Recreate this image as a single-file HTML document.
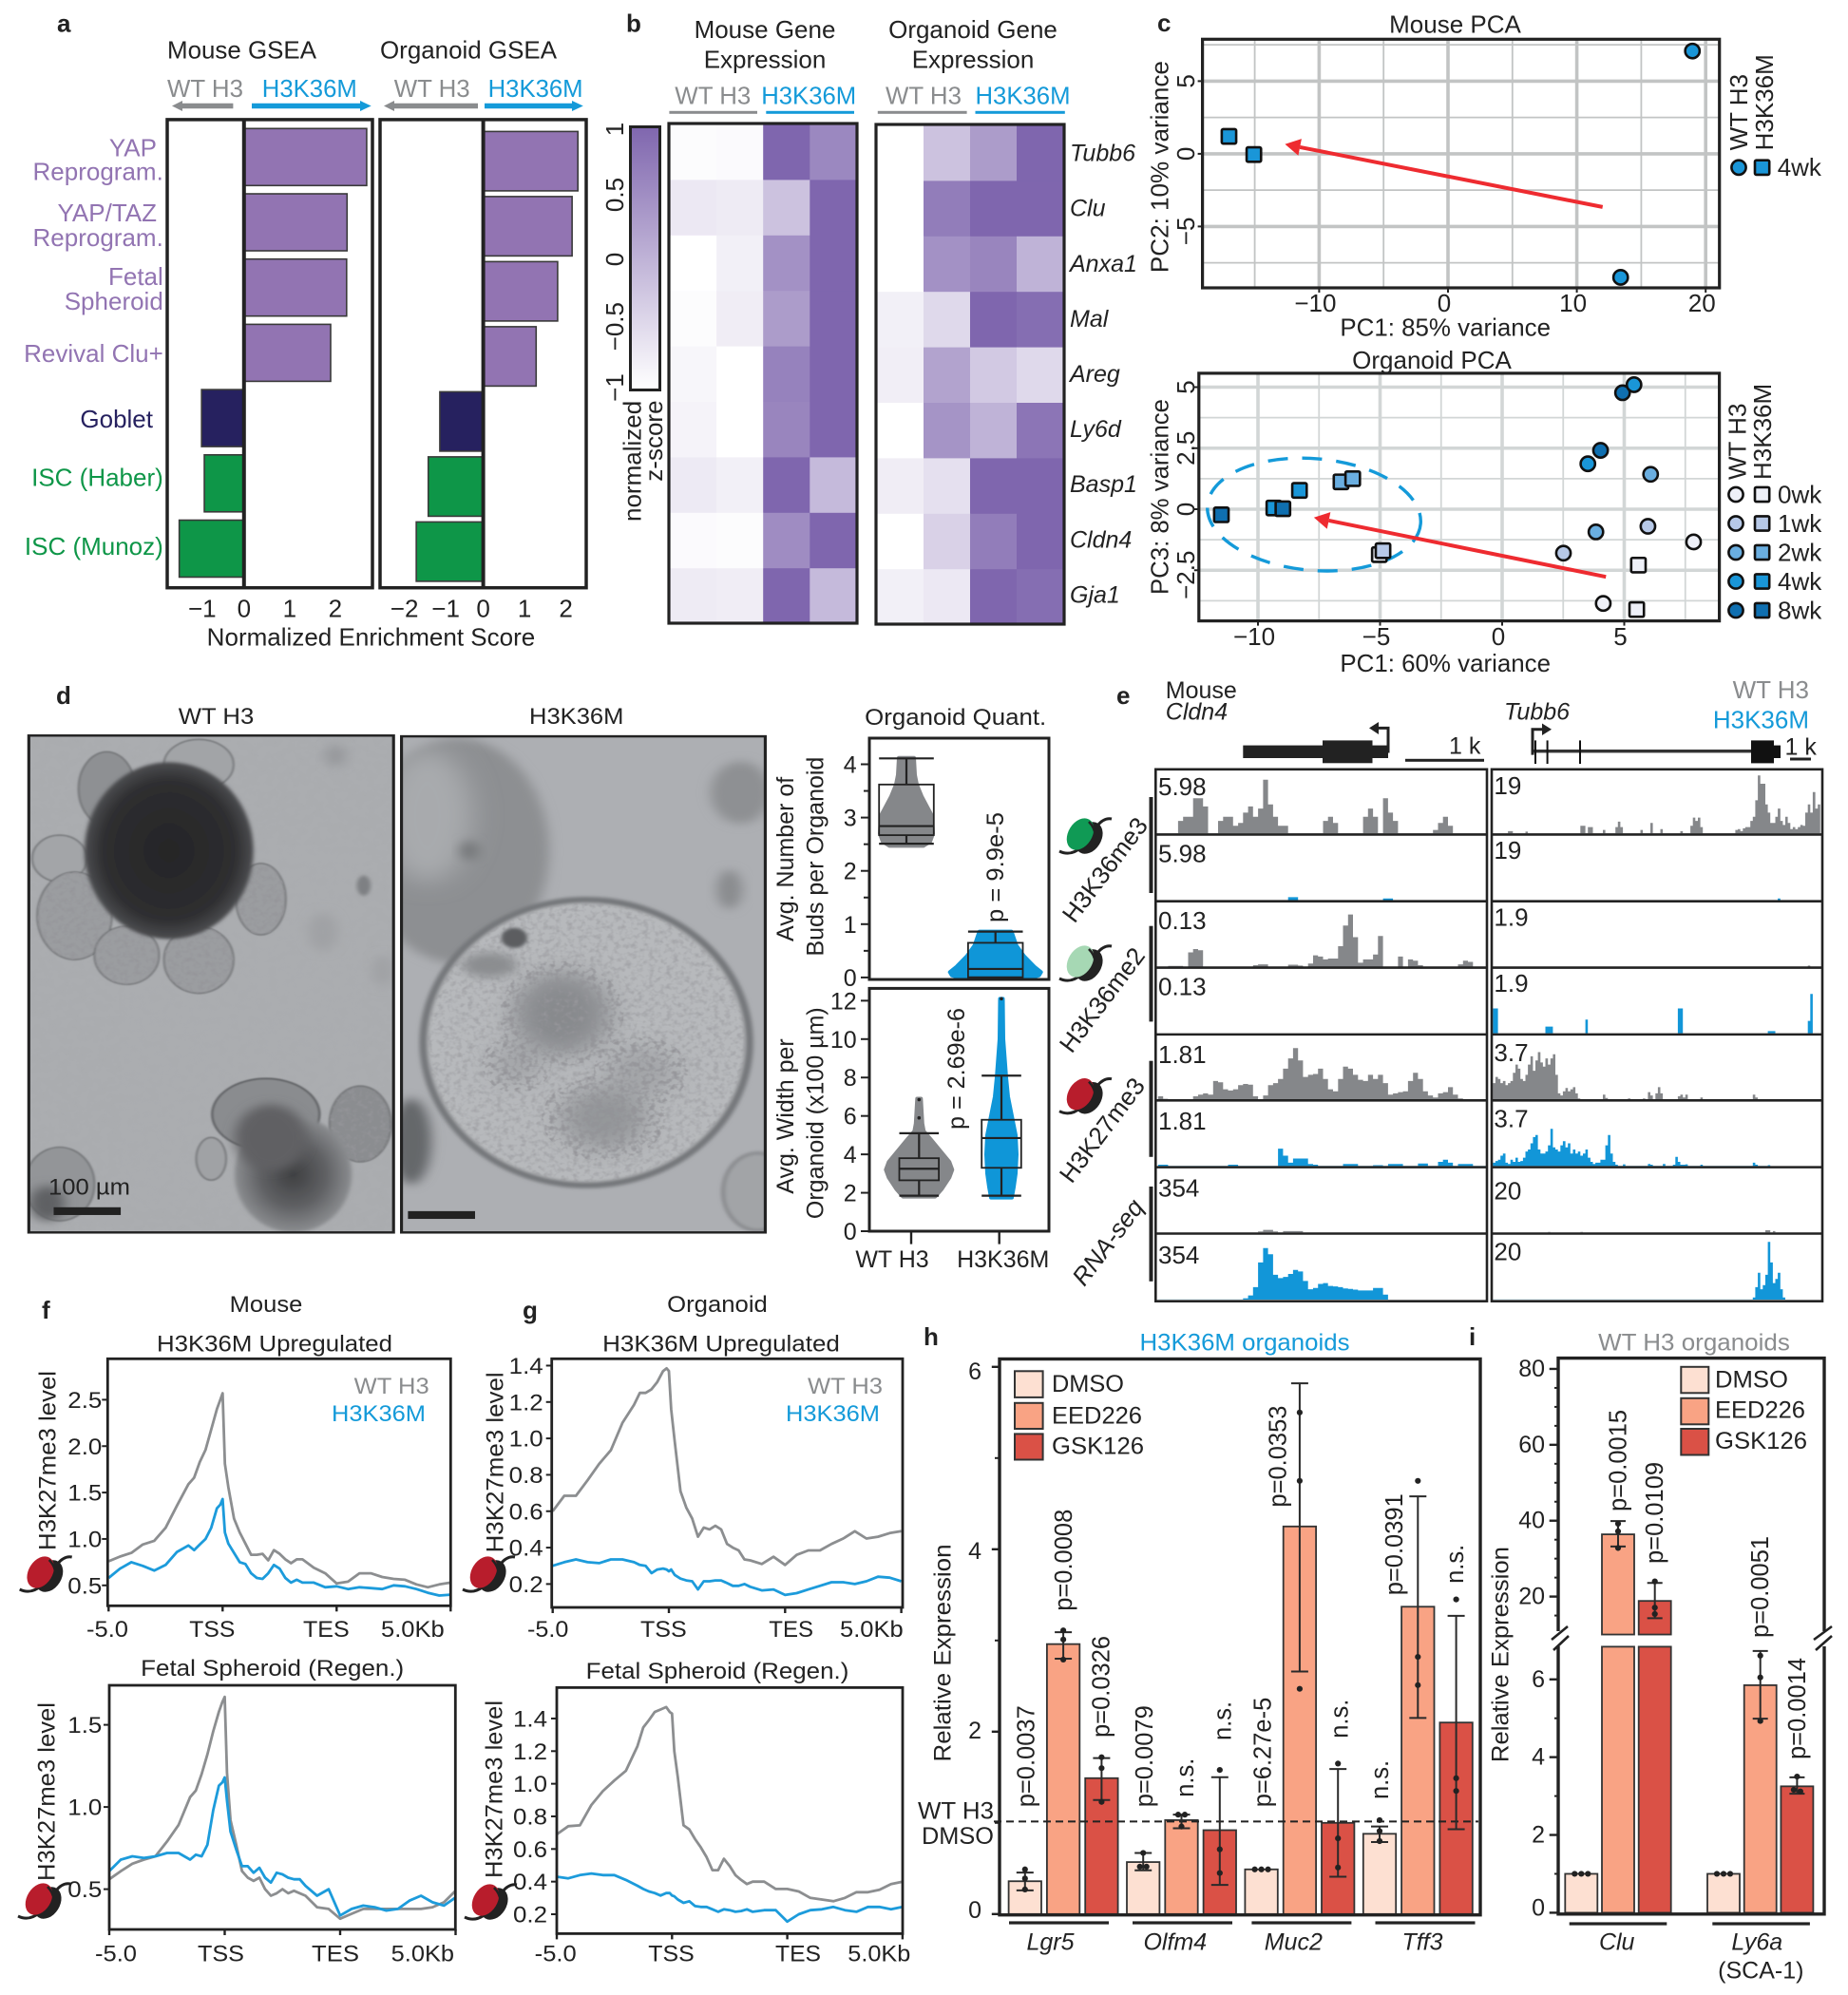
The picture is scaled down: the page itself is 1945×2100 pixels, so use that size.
<!DOCTYPE html>
<html lang="en">
<head>
<meta charset="utf-8">
<title>H3K36M figure</title>
<style>
html,body{margin:0;padding:0;background:#fff}
svg{display:block}
text{font-family:"Liberation Sans",sans-serif;fill:#222;font-size:26px}
.b{font-weight:700}
.gray{fill:#8a8c8e}
.blue{fill:#149ad9}
.purple{fill:#9274b2}
.navy{fill:#26215f}
.green{fill:#0e9648}
.it{font-style:italic}
.e{text-anchor:end}
.m{text-anchor:middle}
.s{font-size:24px}
</style>
</head>
<body>
<svg id="figure" width="1945" height="2100" viewBox="0 0 1945 2100">
<defs>
<linearGradient id="zscore-gradient" x1="0" y1="0" x2="0" y2="1"><stop offset="0" stop-color="#7f66ae"/><stop offset="1" stop-color="#ffffff"/></linearGradient>
<radialGradient id="core-gradient"><stop offset="0" stop-color="#252527"/><stop offset=".78" stop-color="#2e2e30"/><stop offset="1" stop-color="#4c4d50"/></radialGradient>
<radialGradient id="mass-gradient"><stop offset="0" stop-color="#3f4042"/><stop offset=".55" stop-color="#5f6063"/><stop offset="1" stop-color="#8b8d90"/></radialGradient>
<filter id="blur-xs" x="-10%" y="-10%" width="120%" height="120%"><feGaussianBlur stdDeviation="2"/></filter>
<filter id="blur-s" x="-20%" y="-20%" width="140%" height="140%"><feGaussianBlur stdDeviation="4"/></filter>
<filter id="blur-m" x="-40%" y="-40%" width="180%" height="180%"><feGaussianBlur stdDeviation="12"/></filter>
<filter id="blur-l" x="-60%" y="-60%" width="220%" height="220%"><feGaussianBlur stdDeviation="28"/></filter>
<filter id="speck" x="0" y="0" width="100%" height="100%"><feTurbulence type="fractalNoise" baseFrequency="0.085" numOctaves="2" seed="4"/><feColorMatrix values="0 0 0 0 .3 0 0 0 0 .3 0 0 0 0 .32 2.6 0 0 0 -1.15"/></filter>
<filter id="speck-fine" x="0" y="0" width="100%" height="100%"><feTurbulence type="fractalNoise" baseFrequency="0.05" numOctaves="3" seed="9"/><feColorMatrix values="0 0 0 0 .35 0 0 0 0 .35 0 0 0 0 .37 1.2 0 0 0 -.52"/></filter>
<clipPath id="photo-left-clip"><rect x="58" y="133" width="734" height="1282"/></clipPath>
<clipPath id="photo-right-clip"><rect x="808" y="135" width="732" height="1280"/></clipPath>
<clipPath id="sphere-clip"><ellipse cx="1180" cy="925" rx="322" ry="362"/></clipPath>
<clipPath id="cluster-clip"><ellipse cx="1130" cy="850" rx="125" ry="135"/><ellipse cx="1215" cy="1120" rx="125" ry="110"/><ellipse cx="1290" cy="1000" rx="95" ry="90"/><ellipse cx="1040" cy="980" rx="70" ry="75"/></clipPath>
<clipPath id="bud-clip"><ellipse cx="150" cy="598" rx="75" ry="113"/><ellipse cx="255" cy="700" rx="65" ry="75"/><ellipse cx="400" cy="712" rx="70" ry="86"/><ellipse cx="525" cy="555" rx="50" ry="92"/><ellipse cx="725" cy="1135" rx="62" ry="98"/><ellipse cx="535" cy="1110" rx="108" ry="92"/></clipPath>
<g id="nuc">
<path d="M-26 17C-18 21-10 19-3 13M14-10C19-16 24-18 29-17" fill="none" stroke="#222" stroke-width="3"/>
<ellipse cx="5" cy="3" rx="18" ry="13" transform="rotate(-58 5 3)" fill="#222"/>
<ellipse cx="-4" cy="-1" rx="18" ry="12.5" transform="rotate(-58 -4 -1)" fill="currentColor"/>
<path d="M5-14C13-6 14 5 7 15M0 15C6 10 14 4 18-2" fill="none" stroke="#222" stroke-width="2.6"/>
</g>
</defs>

<!-- panel labels -->
<text class="b" x="60" y="33.5">a</text>
<text class="b" x="659" y="33.5">b</text>
<text class="b" x="1218" y="33">c</text>
<text class="b" x="59" y="741">d</text>
<text class="b" x="1175" y="741">e</text>
<text class="b" x="44" y="1388">f</text>
<text class="b" x="550" y="1388">g</text>
<text class="b" x="972" y="1416">h</text>
<text class="b" x="1546" y="1416">i</text>

<!-- panel a text -->
<text x="176" y="61.6" textLength="157" lengthAdjust="spacingAndGlyphs">Mouse GSEA</text>
<text x="400" y="61.6" textLength="186" lengthAdjust="spacingAndGlyphs">Organoid GSEA</text>
<text class="gray" x="176" y="101.8" textLength="80" lengthAdjust="spacingAndGlyphs">WT H3</text>
<text class="blue" x="275.8" y="101.8" textLength="100" lengthAdjust="spacingAndGlyphs">H3K36M</text>
<text class="gray" x="414.7" y="101.8" textLength="80" lengthAdjust="spacingAndGlyphs">WT H3</text>
<text class="blue" x="513.6" y="101.8" textLength="100" lengthAdjust="spacingAndGlyphs">H3K36M</text>
<g>
<path d="M245.4 105.8H192V103L181 108.5 192 114V111.2H245.4Z" fill="#8a8c8e" transform="translate(0,3)"/>
<path d="M265 105.8H379V103L390.7 108.5 379 114V111.2H265Z" fill="#149ad9" transform="translate(0,3)"/>
<path d="M503 105.8H415V103L404 108.5 415 114V111.2H503Z" fill="#8a8c8e" transform="translate(0,3)"/>
<path d="M510 105.8H602V103L613.8 108.5 602 114V111.2H510Z" fill="#149ad9" transform="translate(0,3)"/>
</g>
<text class="purple e" x="165" y="164.3">YAP</text>
<text class="purple e" x="171.8" y="189.7">Reprogram.</text>
<text class="purple e" x="165" y="233">YAP/TAZ</text>
<text class="purple e" x="171.8" y="259">Reprogram.</text>
<text class="purple e" x="171.8" y="300">Fetal</text>
<text class="purple e" x="171.8" y="326">Spheroid</text>
<text class="purple e" x="171.8" y="381">Revival Clu+</text>
<text class="navy e" x="161" y="450">Goblet</text>
<text class="green e" x="171.8" y="511.6">ISC (Haber)</text>
<text class="green e" x="171.8" y="584">ISC (Munoz)</text>
<text x="217.7" y="679.4" textLength="345.6" lengthAdjust="spacingAndGlyphs">Normalized Enrichment Score</text>

<!-- panel b text -->
<text class="m" x="805" y="40">Mouse Gene</text>
<text class="m" x="805" y="71.4">Expression</text>
<text class="m" x="1024" y="40">Organoid Gene</text>
<text class="m" x="1024" y="71.4">Expression</text>
<text class="gray" x="710.3" y="109.4" textLength="80" lengthAdjust="spacingAndGlyphs">WT H3</text>
<text class="blue" x="801.2" y="109.4" textLength="100" lengthAdjust="spacingAndGlyphs">H3K36M</text>
<text class="gray" x="932" y="109.4" textLength="80" lengthAdjust="spacingAndGlyphs">WT H3</text>
<text class="blue" x="1026.5" y="109.4" textLength="100" lengthAdjust="spacingAndGlyphs">H3K36M</text>
<g>
<rect x="704.4" y="116.8" width="92.6" height="3" fill="#8a8c8e"/>
<rect x="806.3" y="116.8" width="92.7" height="3" fill="#149ad9"/>
<rect x="923.8" y="116.8" width="93.8" height="3" fill="#8a8c8e"/>
<rect x="1026.5" y="116.8" width="94.3" height="3" fill="#149ad9"/>
</g>
<rect x="663.5" y="133.5" width="31" height="277" fill="url(#zscore-gradient)" stroke="#222" stroke-width="3"/>
<text class="m" transform="translate(656,136) rotate(-90)">1</text>
<text class="m" transform="translate(656,205) rotate(-90)">0.5</text>
<text class="m" transform="translate(656,273) rotate(-90)">0</text>
<text class="m" transform="translate(656,343.7) rotate(-90)">−0.5</text>
<text class="m" transform="translate(656,408) rotate(-90)">−1</text>
<text transform="translate(674.5,549) rotate(-90)">normalized</text>
<text transform="translate(696.8,506.7) rotate(-90)">z-score</text>

<!-- panel c text -->
<text class="m" x="1531.5" y="34.4">Mouse PCA</text>
<text class="m" x="1507" y="388">Organoid PCA</text>
<text class="m" transform="translate(1229.5,175.6) rotate(-90)" textLength="223" lengthAdjust="spacingAndGlyphs">PC2: 10% variance</text>
<text class="m" transform="translate(1229.5,523) rotate(-90)" textLength="206" lengthAdjust="spacingAndGlyphs">PC3: 8% variance</text>
<text x="1410.4" y="353.4" textLength="221.6" lengthAdjust="spacingAndGlyphs">PC1: 85% variance</text>
<text x="1410.4" y="706.9" textLength="221.6" lengthAdjust="spacingAndGlyphs">PC1: 60% variance</text>
<text transform="translate(1839,158.4) rotate(-90)">WT H3</text>
<text transform="translate(1866,158.4) rotate(-90)">H3K36M</text>
<text transform="translate(1837.5,505) rotate(-90)">WT H3</text>
<text transform="translate(1864,505) rotate(-90)">H3K36M</text>

<!-- panel d photos -->
<g id="photos" transform="translate(0,720) scale(.523,.408)">
<g clip-path="url(#photo-left-clip)">
<rect x="58" y="133" width="734" height="1282" fill="#abadb0"/>
<rect x="58" y="133" width="734" height="1282" filter="url(#speck-fine)" opacity=".16"/>
<ellipse cx="675" cy="185" rx="22" ry="28" fill="#97999c" filter="url(#blur-m)"/>
<ellipse cx="732" cy="520" rx="14" ry="26" fill="#7e8083" filter="url(#blur-s)"/>
<ellipse cx="650" cy="640" rx="30" ry="50" fill="#a0a2a5" filter="url(#blur-m)"/>
<ellipse cx="770" cy="740" rx="22" ry="40" fill="#a0a2a5" filter="url(#blur-m)"/>
<g stroke="#66686b" stroke-width="3" fill="#9b9da0" filter="url(#blur-xs)">
<ellipse cx="215" cy="270" rx="57" ry="95" fill="#8e9093"/>
<ellipse cx="400" cy="208" rx="70" ry="65" fill="#a2a4a7"/>
<ellipse cx="120" cy="450" rx="55" ry="60" fill="#a3a5a8"/>
<ellipse cx="150" cy="598" rx="75" ry="113"/>
<ellipse cx="255" cy="700" rx="65" ry="75"/>
<ellipse cx="400" cy="712" rx="70" ry="86"/>
<ellipse cx="525" cy="555" rx="50" ry="92"/>
<ellipse cx="725" cy="1135" rx="62" ry="98" fill="#8b8d90"/>
<ellipse cx="425" cy="1225" rx="30" ry="55" fill="#a0a2a5"/>
<ellipse cx="120" cy="1290" rx="70" ry="95" fill="#939598"/>
</g>
<g clip-path="url(#bud-clip)"><rect x="58" y="133" width="734" height="1282" filter="url(#speck)" opacity=".8"/></g>
<ellipse cx="340" cy="430" rx="170" ry="228" fill="url(#core-gradient)" filter="url(#blur-s)"/>
<ellipse cx="535" cy="1110" rx="108" ry="92" fill="#8a8c8f" stroke="#55575a" stroke-width="4" filter="url(#blur-xs)"/>
<ellipse cx="590" cy="1265" rx="118" ry="150" fill="url(#mass-gradient)" filter="url(#blur-s)"/>
<ellipse cx="545" cy="1170" rx="72" ry="85" fill="#606164" filter="url(#blur-m)"/>
<ellipse cx="95" cy="1340" rx="35" ry="45" fill="#5f6063" filter="url(#blur-m)"/>
</g>
<g clip-path="url(#photo-right-clip)">
<rect x="808" y="135" width="732" height="1280" fill="#adafb3"/>
<ellipse cx="920" cy="430" rx="185" ry="290" fill="#8d8f92" filter="url(#blur-m)"/>
<ellipse cx="860" cy="340" rx="90" ry="170" fill="#a8aaad" filter="url(#blur-l)"/>
<ellipse cx="945" cy="430" rx="20" ry="25" fill="#77797c" filter="url(#blur-m)"/>
<ellipse cx="828" cy="1180" rx="40" ry="110" fill="#65676a" filter="url(#blur-m)"/>
<ellipse cx="1490" cy="280" rx="60" ry="80" fill="#8e9093" filter="url(#blur-m)"/>
<ellipse cx="1468" cy="530" rx="26" ry="50" fill="#8a8c8f" filter="url(#blur-m)"/>
<ellipse cx="1525" cy="1310" rx="70" ry="100" fill="#a2a4a7" stroke="#7b7d80" stroke-width="6" filter="url(#blur-s)"/>
<ellipse cx="1180" cy="925" rx="328" ry="368" fill="#b7b9bc" stroke="#75777a" stroke-width="16" filter="url(#blur-s)"/>
<g clip-path="url(#sphere-clip)">
<rect x="850" y="555" width="660" height="745" filter="url(#speck)" opacity=".55"/>
<ellipse cx="1130" cy="850" rx="95" ry="105" fill="#75777a" opacity=".7" filter="url(#blur-l)"/>
<ellipse cx="1215" cy="1120" rx="85" ry="80" fill="#7e8083" opacity=".6" filter="url(#blur-l)"/>
<ellipse cx="1290" cy="1000" rx="70" ry="65" fill="#8f9194" opacity=".5" filter="url(#blur-l)"/>
<ellipse cx="1040" cy="980" rx="50" ry="55" fill="#8f9194" opacity=".5" filter="url(#blur-l)"/>
<g clip-path="url(#cluster-clip)"><rect x="850" y="555" width="660" height="745" filter="url(#speck)"/></g>
<ellipse cx="1035" cy="655" rx="26" ry="26" fill="#5b5d60" filter="url(#blur-s)"/>
<ellipse cx="985" cy="725" rx="55" ry="32" fill="#8b8d90" filter="url(#blur-m)"/>
</g>
</g>
<rect x="58" y="133" width="734" height="1282" fill="none" stroke="#222" stroke-width="6"/>
<rect x="808" y="135" width="732" height="1280" fill="none" stroke="#222" stroke-width="6"/>
<rect x="108" y="1350" width="135" height="20" fill="#222"/>
<rect x="821" y="1360" width="135" height="20" fill="#222"/>
</g>
<text class="m" x="227.5" y="762" textLength="79.5" lengthAdjust="spacingAndGlyphs" style="font-size:24.5px">WT H3</text>
<text class="m" x="606.7" y="762" textLength="99.4" lengthAdjust="spacingAndGlyphs" style="font-size:24.5px">H3K36M</text>
<text x="51" y="1257.7" textLength="86" lengthAdjust="spacingAndGlyphs" style="font-size:24.5px">100 µm</text>
<text class="m" x="1005.7" y="762.8" textLength="191" lengthAdjust="spacingAndGlyphs" style="font-size:24px">Organoid Quant.</text>
<text class="m" transform="translate(835,904.4) rotate(-90)" style="font-size:25px">Avg. Number of</text>
<text class="m" transform="translate(866.7,901.6) rotate(-90)" style="font-size:25px">Buds per Organoid</text>
<text class="m" transform="translate(835,1175) rotate(-90)" style="font-size:25px">Avg. Width per</text>
<text class="m" transform="translate(866.7,1171.7) rotate(-90)" style="font-size:25px">Organoid (x100 µm)</text>
<text transform="translate(1056,971) rotate(-90)" textLength="116" lengthAdjust="spacingAndGlyphs" style="font-size:25px">p = 9.9e-5</text>
<text transform="translate(1015,1189) rotate(-90)" textLength="128" lengthAdjust="spacingAndGlyphs" style="font-size:25px">p = 2.69e-6</text>
<text class="m" x="939" y="1334" style="font-size:25px">WT H3</text>
<text class="m" x="1055.7" y="1334" style="font-size:25px">H3K36M</text>

<!-- panel e text -->
<text x="1226.8" y="735" style="font-size:25px">Mouse</text>
<text class="it" x="1226.8" y="757.7" style="font-size:25px">Cldn4</text>
<text class="it" x="1583" y="757.7" style="font-size:25px">Tubb6</text>
<text class="gray e" x="1904" y="735" style="font-size:26px">WT H3</text>
<text class="blue e" x="1904" y="766.4" style="font-size:26px">H3K36M</text>
<g fill="#222">
<rect x="1308.3" y="784.6" width="84" height="13.4"/>
<rect x="1392" y="779.4" width="52.5" height="23.9"/>
<rect x="1444.5" y="784.6" width="16.5" height="13.4"/>
<path d="M1461 792.5V766.4H1449" fill="none" stroke="#222" stroke-width="3"/>
<path d="M1451 760L1441 766.4 1451 773Z"/>
</g>
<g fill="#111">
<path d="M1613 794.6V767.7H1624" fill="none" stroke="#222" stroke-width="3"/>
<path d="M1623 761.5L1633 767.7 1623 774Z" fill="#222"/>
<rect x="1614.4" y="789" width="229" height="3.4" fill="#333"/>
<rect x="1615" y="779.4" width="2" height="24.6"/>
<rect x="1627.6" y="779.4" width="2" height="24.6"/>
<rect x="1662" y="779.4" width="2" height="24.6"/>
<rect x="1843" y="779.4" width="24" height="24"/>
<rect x="1867" y="784.6" width="7" height="13.4"/>
</g>
<text x="1525" y="793.3" style="font-size:25px">1 k</text>
<rect x="1479" y="798.8" width="83" height="3" fill="#222"/>
<text x="1878.5" y="794.6" style="font-size:25px">1 k</text>
<rect x="1884" y="797.5" width="22" height="3" fill="#222"/>
<g fill="#222">
<rect x="1209.5" y="839" width="4" height="101"/>
<rect x="1209.5" y="974.7" width="4" height="100.7"/>
<rect x="1209.5" y="1116.7" width="4" height="101.1"/>
<rect x="1209.5" y="1249" width="4" height="99.8"/>
</g>
<text class="m" transform="translate(1170,921) rotate(-53)">H3K36me3</text>
<text class="m" transform="translate(1167,1058) rotate(-53)">H3K36me2</text>
<text class="m" transform="translate(1167,1195) rotate(-53)">H3K27me3</text>
<text class="m it" transform="translate(1173,1313) rotate(-53)">RNA-seq</text>
<use href="#nuc" x="1141" y="879" style="color:#109a55"/>
<use href="#nuc" x="1141" y="1013" style="color:#a6d8b4"/>
<use href="#nuc" x="1141" y="1152.7" style="color:#b81d2c"/>

<!-- panels f and g text -->
<text class="m s" x="280" y="1381" textLength="76.7" lengthAdjust="spacingAndGlyphs">Mouse</text>
<text class="m s" x="289" y="1422.7" textLength="248" lengthAdjust="spacingAndGlyphs">H3K36M Upregulated</text>
<text class="gray e s" x="451.7" y="1467" textLength="79" lengthAdjust="spacingAndGlyphs">WT H3</text>
<text class="blue e s" x="448" y="1495.8" textLength="99" lengthAdjust="spacingAndGlyphs">H3K36M</text>
<text class="m s" x="286.7" y="1764" textLength="277" lengthAdjust="spacingAndGlyphs">Fetal Spheroid (Regen.)</text>
<text class="m s" x="755" y="1381" textLength="105.7" lengthAdjust="spacingAndGlyphs">Organoid</text>
<text class="m s" x="759" y="1422.7" textLength="249.7" lengthAdjust="spacingAndGlyphs">H3K36M Upregulated</text>
<text class="gray e s" x="929" y="1467" textLength="79" lengthAdjust="spacingAndGlyphs">WT H3</text>
<text class="blue e s" x="926" y="1495.8" textLength="99" lengthAdjust="spacingAndGlyphs">H3K36M</text>
<text class="m s" x="755" y="1767" textLength="276.7" lengthAdjust="spacingAndGlyphs">Fetal Spheroid (Regen.)</text>
<text transform="translate(58.3,1632) rotate(-90)" textLength="189" lengthAdjust="spacingAndGlyphs" style="font-size:25px">H3K27me3 level</text>
<text transform="translate(57.3,1980) rotate(-90)" textLength="188" lengthAdjust="spacingAndGlyphs" style="font-size:25px">H3K27me3 level</text>
<text transform="translate(529.3,1634.4) rotate(-90)" textLength="190" lengthAdjust="spacingAndGlyphs" style="font-size:25px">H3K27me3 level</text>
<text transform="translate(528.3,1977) rotate(-90)" textLength="187" lengthAdjust="spacingAndGlyphs" style="font-size:25px">H3K27me3 level</text>

<!-- panel h text -->
<text class="blue m" x="1310" y="1421.3" textLength="221" lengthAdjust="spacingAndGlyphs" style="font-size:25px">H3K36M organoids</text>
<text class="m" transform="translate(1000.7,1740) rotate(-90)" textLength="229" lengthAdjust="spacingAndGlyphs" style="font-size:25px">Relative Expression</text>
<text class="e" x="1046" y="1914.7" style="font-size:25px" textLength="80" lengthAdjust="spacingAndGlyphs">WT H3</text>
<text class="e" x="1046" y="1941" style="font-size:25px" textLength="76" lengthAdjust="spacingAndGlyphs">DMSO</text>
<g>
<rect x="1068" y="1443.3" width="29.6" height="27.6" fill="#fde0d2" stroke="#333" stroke-width="2"/>
<rect x="1068" y="1476.8" width="29.6" height="27.2" fill="#f9a384" stroke="#333" stroke-width="2"/>
<rect x="1068" y="1509.4" width="29.6" height="27.1" fill="#da5146" stroke="#333" stroke-width="2"/>
<text x="1107" y="1465" textLength="76" lengthAdjust="spacingAndGlyphs" style="font-size:25px">DMSO</text>
<text x="1107" y="1498.4" textLength="95" lengthAdjust="spacingAndGlyphs" style="font-size:25px">EED226</text>
<text x="1107" y="1530.6" textLength="97" lengthAdjust="spacingAndGlyphs" style="font-size:25px">GSK126</text>
</g>
<g style="font-size:25.5px">
<text style="font-size:25.5px" transform="translate(1088.5,1902.3) rotate(-90)">p=0.0037</text>
<text style="font-size:25.5px" transform="translate(1128,1695.8) rotate(-90)">p=0.0008</text>
<text style="font-size:25.5px" transform="translate(1167.6,1829) rotate(-90)">p=0.0326</text>
<text style="font-size:25.5px" transform="translate(1213,1902.3) rotate(-90)">p=0.0079</text>
<text style="font-size:25.5px" transform="translate(1255.8,1891.8) rotate(-90)">n.s.</text>
<text style="font-size:25.5px" transform="translate(1295.3,1832) rotate(-90)">n.s.</text>
<text style="font-size:25.5px" transform="translate(1337.6,1902.3) rotate(-90)">p=6.27e-5</text>
<text style="font-size:25.5px" transform="translate(1353.4,1586.6) rotate(-90)">p=0.0353</text>
<text style="font-size:25.5px" transform="translate(1418.7,1829.8) rotate(-90)">n.s.</text>
<text style="font-size:25.5px" transform="translate(1461,1894) rotate(-90)">n.s.</text>
<text style="font-size:25.5px" transform="translate(1476,1679.3) rotate(-90)">p=0.0391</text>
<text style="font-size:25.5px" transform="translate(1540,1666.9) rotate(-90)">n.s.</text>
</g>

<!-- panel i text -->
<text class="gray m" x="1783" y="1421.3" textLength="201.7" lengthAdjust="spacingAndGlyphs" style="font-size:25px">WT H3 organoids</text>
<text class="m" transform="translate(1587.7,1741.6) rotate(-90)" textLength="227" lengthAdjust="spacingAndGlyphs" style="font-size:25px">Relative Expression</text>
<g>
<rect x="1769.3" y="1438.8" width="29" height="27.5" fill="#fde0d2" stroke="#333" stroke-width="2"/>
<rect x="1769.3" y="1471.8" width="29" height="27.5" fill="#f9a384" stroke="#333" stroke-width="2"/>
<rect x="1769.3" y="1504" width="29" height="27.5" fill="#da5146" stroke="#333" stroke-width="2"/>
<text x="1805" y="1460.3" textLength="77" lengthAdjust="spacingAndGlyphs" style="font-size:25px">DMSO</text>
<text x="1805" y="1492.5" textLength="95" lengthAdjust="spacingAndGlyphs" style="font-size:25px">EED226</text>
<text x="1805" y="1525" textLength="97" lengthAdjust="spacingAndGlyphs" style="font-size:25px">GSK126</text>
</g>
<text style="font-size:25.5px" transform="translate(1711.7,1591) rotate(-90)">p=0.0015</text>
<text style="font-size:25.5px" transform="translate(1750,1646) rotate(-90)">p=0.0109</text>
<text style="font-size:25.5px" transform="translate(1861,1724) rotate(-90)">p=0.0051</text>
<text style="font-size:25.5px" transform="translate(1900,1852) rotate(-90)">p=0.0014</text>
<text class="it m" x="1701.7" y="2052.4" style="font-size:25px">Clu</text>
<text class="it m" x="1849.3" y="2052.4" style="font-size:25px">Ly6a</text>
<text class="m" x="1853.3" y="2082.3" style="font-size:25px">(SCA-1)</text>

<use href="#nuc" x="46.7" y="1656" style="color:#b81d2c"/>
<use href="#nuc" x="45" y="2000" style="color:#b81d2c"/>
<use href="#nuc" x="513" y="1656" style="color:#b81d2c"/>
<use href="#nuc" x="515" y="2001" style="color:#b81d2c"/>
</svg>

<script>
/* ===== panel a data ===== */
const gseaGroups = ['regen','regen','regen','regen','goblet','isc','isc'];
const mouseNES = [2.69,2.26,2.25,1.9,-0.93,-0.87,-1.42];
const organoidNES = [2.29,2.15,1.8,1.28,-1.05,-1.33,-1.62];
const mouseNESTicks = [-1,0,1,2];
const organoidNESTicks = [-2,-1,0,1,2];

/* ===== panel b data ===== */
const heatGenes = ['Tubb6','Clu','Anxa1','Mal','Areg','Ly6d','Basp1','Cldn4','Gja1'];
const mouseHeat = [
[.02,.03,1,.78],[.15,.13,.4,1],[0,.1,.72,1],[.02,.12,.65,1],[.06,0,.82,1],
[.08,0,.8,1],[.14,.1,1,.45],[.03,.02,.75,1],[.13,.12,1,.45]];
const organoidHeat = [
[0,.4,.65,1],[0,.85,1,1],[0,.72,.8,.5],[.1,.25,1,.95],[.11,.6,.35,.25],
[0,.7,.5,.9],[.12,.2,1,1],[0,.3,.85,1],[.1,.15,1,.95]];

/* ===== panel c data ===== */
const mouseCircleX = [18.97,13.4];
const mouseCircleY = [7.07,-8.5];
const mouseSquareX = [-17,-15.07];
const mouseSquareY = [1.2,-0.05];
const mouseArrowX = [12,-12.65];
const mouseArrowY = [-3.66,0.66];
const mouseMajorX = [-10,0,10,20];
const mouseMinorX = [-15,-5,5,15];
const mouseMajorY = [5,0,-5];
const mouseMinorY = [7.5,2.5,-2.5,-7.5];
const orgCircleX = [4.93,5.40,4.03,3.51,6.08,5.97,3.84,2.51,7.84,4.14];
const orgCircleY = [4.77,5.1,2.41,1.86,1.43,-0.70,-0.93,-1.80,-1.34,-3.86];
const orgCircleWeek = ['8wk','4wk','8wk','4wk','2wk','1wk','2wk','1wk','0wk','0wk'];
const orgSquareX = [-6.60,-6.12,-8.30,-9.35,-8.98,-11.5,-5.03,-4.88,5.58,5.51];
const orgSquareY = [1.12,1.25,0.77,0.05,0.02,-0.23,-1.86,-1.70,-2.29,-4.11];
const orgSquareWeek = ['2wk','2wk','4wk','4wk','8wk','8wk','0wk','1wk','0wk','0wk'];
const orgArrowX = [4.25,-7.71];
const orgArrowY = [-2.77,-0.34];
const orgMajorX = [-10,-5,0,5];
const orgMinorX = [-7.5,-2.5,2.5,7.5];
const orgMajorY = [5,2.5,0,-2.5];
const orgMinorY = [3.75,1.25,-1.25,-3.75];
const pcaWeeks = ['0wk','1wk','2wk','4wk','8wk'];

/* ===== panel d data ===== */
const budsTicks = [0,1,2,3,4];
const widthTicks = [0,2,4,6,8,10,12];
const budsWTLevels = [2.47,2.55,2.7,3.03,3.4,3.62,3.8,4.12];
const budsWTDensity = [18,25,28,27,16,11,9,8];
const budsWTBox = [2.51,2.67,2.84,3.62,4.11];
const budsKOLevels = [0,0.04,0.1,0.2,0.4,0.6,0.86];
const budsKODensity = [38,46,48,41,30,22,17];
const budsKOBox = [0,0,0.16,0.65,0.86];
const widthWTLevels = [1.8,2.2,2.8,3.2,3.6,4.2,4.8,5.2,5.6,6.9];
const widthWTDensity = [17,24,32,35,32,22,12,5,3.5,2];
const widthWTBox = [1.85,2.65,3.25,3.8,5.1];
const widthWTOutliers = [6.85,5.9];
const widthKOLevels = [1.75,2.3,3,4,5,6,7,8,9,10,12.1];
const widthKODensity = [11,13,15,16,15,11,7,5,3.5,2,1.5];
const widthKOBox = [1.85,3.3,4.85,5.8,8.1];
const widthKOOutliers = [12.1];

/* ===== panel e data ===== */
const cldn4Me3WT = [0,0,0,0,30,40,40,85,85,65,0,0,30,40,40,18,25,50,65,40,60,130,70,40,18,18,0,0,0,0,0,0,0,30,40,25,0,0,0,0,0,40,60,40,0,85,50,30,0,0,0,0,0,0,0,8,25,40,18,0,0,0,0,0,0,0];
const cldn4Me3KO = [0,0,0,0,0,0,0,0,0,0,0,0,0,0,0,0,0,0,0,0,0,0,0,0,0,0,8,8,0,0,0,0,0,0,0,0,0,0,0,0,0,0,0,0,0,5,5,0,0,0];
const cldn4Me2WT = [0,0,2,2,2,0,35,43,40,0,0,0,0,0,0,0,0,0,0,4,6,6,0,0,0,0,5,5,3,0,8,28,25,18,20,20,50,100,127,72,10,18,18,30,75,0,0,0,25,0,18,15,4,0,0,0,0,0,0,0,6,15,12,0,0,0];
const cldn4Me2KO = [0,0,0,0,0,0,0,0,0,0];
const cldn4K27WT = [8,2,0,0,0,0,0,8,12,15,12,45,42,25,22,25,35,38,36,8,0,10,35,40,50,75,100,125,95,55,60,62,75,50,25,20,50,80,75,60,48,45,60,50,60,40,12,15,18,20,45,65,50,20,10,5,15,18,30,12,3,0,0,0,0,0];
const cldn4K27KO = [3,3,0,0,0,0,0,0,0,0,0,0,0,0,3,3,0,0,0,0,0,0,0,0,42,25,8,18,18,18,5,3,0,0,0,0,0,5,5,5,0,0,0,2,2,0,5,5,5,0,0,0,6,6,0,0,10,15,8,0,5,5,5,0,0,0];
const cldn4RnaWT = [0,0,0,0,0,0,0,0,0,0,0,0,0,0,0,0,0,0,0,0,2,6,6,2,0,3,3,3,3,0];
const cldn4RnaKO = [0,0,0,0,0,0,0,0,0,0,0,0,0,0,0,0,0,3,10,30,90,125,110,60,52,55,62,72,68,45,25,28,38,40,33,32,30,27,26,24,22,22,22,28,28,12];
const tubb6Me3WT = [0,0,0,0,0,0,5,5,0,0,0,0,0,4,0,0,0,0,0,0,0,0,0,0,0,0,0,0,0,0,0,0,0,0,0,18,18,0,15,15,0,0,0,0,8,0,0,0,0,15,28,15,0,0,0,0,0,0,0,8,0,0,0,25,0,0,0,10,0,0,0,0,0,0,0,5,0,0,0,18,38,30,38,15,0,0,0,0,0,0,0,0,0,0,0,0,0,8,10,5,12,15,15,30,40,80,140,120,120,70,50,25,25,40,60,30,20,40,25,10,15,10,15,20,18,50,70,50,100,60,70];
const tubb6Me3KO = [0,0,0,0,0,0,0,0,0,0,0,0,0,0,0,0,0,0,0,0,0,0,0,0,0,0,0,0,0,0,0,0,0,0,0,0,0,0,0,0,0,0,0,0,0,0,0,0,0,0,0,0,0,0,0,0,0,0,0,0,0,0,0,0,0,0,0,0,0,0,0,0,0,0,0,0,0,0,0,0,0,0,0,0,0,0,0,0,0,0,0,0,0,0,0,0,0,0,0,0,0,0,0,0,0,0,0,0,0,0,0,0,0,0,5];
const tubb6Me2WT = [0,0,0,0,0,0,0,0,0,0,0,0,0,0,0,0,0,0,0,0,0,0,0,0,0,0,0,0,0,0,0,0,0,0,0,0,0,0,0,0,0,0,0,0,0,0,0,0,0,0,0,0,0,0,0,0,0,0,0,0,0,0,0,0,0,0,0,0,0,0,0,0,0,0,0,0,0,0,0,0,0,0,0,0,0,0,0,0,0,0,0,0,0,0,0,0,0,0,0,0,0,0,0,0,0,0,0,0,0,0,0,0,0,0,0,0,0,0,0,0,0,0,0,0,0,0,3];
const tubb6Me2KO = [60,60,0,0,0,0,0,0,0,0,0,0,0,0,0,0,0,0,0,0,0,16,16,16,0,0,0,0,0,0,0,0,0,0,0,0,0,33,0,0,0,0,0,0,0,0,0,0,0,0,0,0,0,0,0,0,0,0,0,0,0,0,0,0,0,0,0,0,0,0,0,0,0,0,60,60,0,0,0,0,0,0,0,0,0,0,0,0,0,0,0,0,0,0,0,0,0,0,0,0,0,0,0,0,0,0,0,0,0,0,5,5,5,0,0,0,0,0,0,0,0,0,0,0,0,0,30,95,0,0,0];
const tubb6K27WT = [40,55,50,40,45,35,40,45,65,85,75,50,45,60,85,105,70,95,115,90,80,100,85,100,110,60,15,10,20,28,20,25,30,15,3,0,0,0,0,0,0,0,0,0,12,4,0,0,0,0,0,0,0,0,3,0,0,0,0,0,3,0,18,10,0,15,30,15,0,0,0,0,0,0,8,12,5,12,0,0,0,0,0,5,0,0,0,0,0,0,0,0,0,0,0,0,0,0,0,0,0,0,0,0,12,5];
const tubb6K27KO = [8,12,15,25,30,8,5,15,10,20,10,12,20,35,40,55,70,75,40,30,30,35,50,90,45,40,35,50,60,45,55,30,40,30,35,25,30,40,20,10,5,8,8,15,15,50,75,30,10,3,0,0,4,0,0,0,0,0,0,0,0,0,5,3,0,0,0,0,5,0,0,0,3,22,10,3,3,4,0,0,0,0,0,3,0,0,0,0,0,0,0,0,0,0,0,0,0,0,0,0,0,0,0,0,8,3,0,0,0,0,2];
const tubb6RnaWT = [0,0,0,0,0,0,0,0,0,0,0,0,0,0,0,0,0,0,0,0,0,0,1,0,0,0,0,0,0,0,0,0,0,0,0,1,0,0,0,0,0,0,0,0,0,0,0,0,0,0,0,0,0,0,0,0,0,0,0,0,0,0,0,0,0,0,0,0,0,0,0,0,0,0,0,0,0,0,0,0,0,0,0,0,0,0,0,0,0,0,0,0,0,0,0,0,0,0,0,0,0,0,0,0,0,0,0,0,0,5,5,0,3];
const tubb6RnaKO = [0,0,0,0,0,0,0,0,0,0,0,0,0,0,0,0,0,0,0,0,0,0,0,0,0,0,0,0,0,0,0,0,0,0,0,0,0,0,0,0,0,0,0,0,0,0,0,0,0,0,0,0,0,0,0,0,0,0,0,0,0,0,0,0,0,0,0,0,0,0,0,0,0,0,0,0,0,0,0,0,0,0,0,0,0,0,0,0,0,0,0,0,0,0,0,0,0,0,0,0,0,0,0,0,5,30,65,25,35,60,140,90,40,50,65,25,5];
const trackScaleWT = ['5.98','0.13','1.81','354'];
const trackScaleTubb6 = ['19','1.9','3.7','20'];

/* ===== panels f, g data ===== */
const profilePos = [0,.1,.2,.3,.4,.5,.6,.7,.75,.8,.85,.9,.95,.98,1,1.02,1.05,1.1,1.15,1.2,1.25,1.3,1.35,1.4,1.45,1.5,1.55,1.6,1.65,1.7,1.8,1.9,2,2.1,2.2,2.3,2.4,2.5,2.6,2.7,2.8,2.9,3];
const fTopWT = [.76,.81,.85,.94,.98,1.12,1.36,1.59,1.66,1.83,1.96,2.18,2.4,2.5,2.57,1.81,1.56,1.22,1.07,.95,.83,.83,.84,.77,.88,.84,.78,.74,.78,.78,.69,.63,.52,.54,.63,.63,.59,.57,.56,.51,.48,.51,.53];
const fTopKO = [.58,.68,.75,.71,.66,.72,.86,.93,.88,.94,1,1.12,1.33,1.37,1.43,1.07,.95,.85,.75,.73,.63,.58,.57,.63,.72,.68,.58,.53,.56,.53,.53,.48,.49,.46,.48,.47,.46,.5,.49,.46,.42,.39,.4];
const fBotWT = [.56,.61,.655,.68,.7,.79,.89,1.06,1.1,1.2,1.32,1.46,1.58,1.64,1.67,1.21,.92,.77,.61,.57,.55,.57,.5,.46,.475,.5,.475,.49,.475,.46,.39,.38,.32,.35,.38,.38,.38,.38,.38,.38,.39,.42,.49];
const fBotKO = [.61,.68,.7,.69,.7,.72,.72,.68,.71,.7,.77,.98,1.13,1.15,1.18,1.04,.85,.74,.64,.64,.6,.63,.57,.54,.6,.59,.57,.56,.56,.52,.46,.5,.34,.38,.4,.39,.37,.38,.43,.46,.42,.4,.45];
const gTopWT = [.6,.685,.685,.77,.86,.935,1.085,1.185,1.25,1.25,1.27,1.31,1.37,1.385,1.37,1.16,.985,.71,.62,.56,.46,.51,.5,.52,.5,.42,.4,.385,.335,.33,.31,.35,.305,.36,.385,.385,.42,.45,.49,.45,.46,.48,.49];
const gTopKO = [.3,.32,.335,.32,.315,.335,.335,.32,.305,.3,.26,.28,.285,.28,.27,.28,.25,.23,.22,.215,.17,.215,.215,.22,.22,.205,.19,.19,.2,.185,.165,.17,.14,.15,.17,.19,.21,.21,.2,.215,.24,.235,.215];
const gBotWT = [.69,.74,.745,.87,.955,1.02,1.08,1.23,1.345,1.39,1.44,1.455,1.47,1.44,1.43,1.2,1.04,.745,.72,.66,.61,.55,.47,.47,.54,.495,.44,.41,.385,.4,.4,.355,.355,.34,.3,.29,.28,.3,.335,.335,.35,.385,.4];
const gBotKO = [.43,.42,.44,.45,.44,.44,.41,.375,.355,.34,.33,.315,.33,.33,.315,.31,.29,.27,.28,.25,.245,.245,.23,.215,.23,.225,.215,.22,.23,.215,.225,.225,.155,.2,.225,.23,.245,.225,.215,.245,.245,.23,.245];
const fTopTicks = [2.5,2,1.5,1,.5];
const fBotTicks = [1.5,1,.5];
const gTopTicks = [1.4,1.2,1,.8,.6,.4,.2];
const gBotTicks = [1.4,1.2,1,.8,.6,.4,.2];
const profileXLabels = ['-5.0','TSS','TES','5.0Kb'];

/* ===== panel h data ===== */
const hGenes = ['Lgr5','Olfm4','Muc2','Tff3'];
const hTreatments = ['DMSO','EED226','GSK126'];
const hMeans = [[.36,2.96,1.49],[.57,1.03,.92],[.49,4.25,1],[.88,3.37,2.1]];
const hHigh = [[.455,3.09,1.71],[.67,1.09,1.5],[.49,5.82,1.59],[.96,4.58,3.27]];
const hLow = [[.26,2.8,1.25],[.48,.94,.32],[.49,2.66,.41],[.79,2.15,.93]];
const hPoints = [
[[.49,.39,.27],[3.11,3.01,2.79],[1.72,1.6,1.23]],
[[.67,.52,.52],[1.09,1.09,.96],[1.58,.71,.45]],
[[.49,.49,.49],[5.5,4.75,2.47],[1.65,.83,.51]],
[[1.03,.91,.8],[4.75,2.82,2.51],[3.45,1.49,1.35]]];
const hTicks = [0,2,4,6];
const hMinorTicks = [1,3,5];
const hReference = 1.015;

/* ===== panel i data ===== */
const iGenes = ['Clu','Ly6a'];
const iMeans = [[1,36.4,18.85],[1,5.85,3.25]];
const iHigh = [[1,39.9,23.6],[1,6.73,3.48]];
const iLow = [[1,33.2,14.3],[1,4.99,3.06]];
const iPoints = [
[[1,1,1],[39.2,37.2,32.8],[24,17.1,15.4]],
[[1,1,1],[6.61,6.05,4.93],[3.5,3.16,3.12]]];
const iTicksLower = [0,2,4,6];
const iTicksUpper = [20,40,60,80];
const iMinorLower = [1,3,5];
const iMinorUpper = [15,25,30,35,45,50,55,65,70,75];

/* ===== helpers ===== */
const NS = 'http://www.w3.org/2000/svg';
const root = document.getElementById('figure');
const INK = '#222';
function mk(tag, attrs, parent) {
  const e = document.createElementNS(NS, tag);
  for (const k in attrs) e.setAttribute(k, attrs[k]);
  (parent || root).appendChild(e);
  return e;
}
function label(str, attrs, parent) {
  const e = mk('text', attrs, parent);
  e.textContent = str;
  return e;
}
function widen(e, factor) {
  e.setAttribute('textLength', (e.getComputedTextLength() * factor).toFixed(1));
  e.setAttribute('lengthAdjust', 'spacingAndGlyphs');
}
function minusFmt(v) { return (v < 0 ? '−' : '') + Math.abs(v); }

/* ===== panel a ===== */
const gseaFill = { regen: '#9274b2', goblet: '#26215f', isc: '#0e9648' };
function gseaMouseX(v) { return 256.8 + 48 * v; }
function gseaOrgX(v) { return 508.6 + 43.5 * v; }
function gseaMouseRow(i) { return 135.3 + 68.7 * i; }
function gseaOrgRow(i) { return 138.4 + 68.5 * i; }
function drawGsea(values, xf, rowf, h, left, right, ticks) {
  values.forEach(function (v, i) {
    const r = mk('rect', { x: Math.min(xf(0), xf(v)), y: rowf(i), width: Math.abs(xf(v) - xf(0)), height: h, fill: gseaFill[gseaGroups[i]], stroke: '#3a3a3a', 'stroke-width': 1.6 });
    
    
  });
  const zero = mk('line', { x1: xf(0), x2: xf(0), y1: 126, y2: 618, stroke: INK, 'stroke-width': 4 });
  
  
  const frame = mk('rect', { x: left, y: 125.9, width: right - left, height: 492.8, fill: 'none', stroke: INK, 'stroke-width': 3.5 });
  
  
  ticks.forEach(function (t) {
    const tl = label(minusFmt(t), { class: 'm', x: xf(t) + (t < 0 ? 4 : 0), y: 649.5 });
    
    
  });
}
drawGsea(mouseNES, gseaMouseX, gseaMouseRow, 60, 176, 392, mouseNESTicks);
drawGsea(organoidNES, gseaOrgX, gseaOrgRow, 62.5, 400, 617, organoidNESTicks);

/* ===== panel b ===== */
function heatColor(v) {
  const c0 = [255, 255, 255], c1 = [127, 102, 174];
  return 'rgb(' + c0.map(function (c, k) { return Math.round(c + (c1[k] - c) * v); }).join(',') + ')';
}
function drawHeat(matrix, left, top, cellW, cellH, frameX, frameY) {
  matrix.forEach(function (row, r) {
    row.forEach(function (v, c) {
      const cell = mk('rect', { x: left + c * cellW, y: top + r * cellH, width: cellW + .4, height: cellH + .4, fill: heatColor(v) });
      
      
    });
  });
  const f = mk('rect', { x: frameX, y: frameY, width: 198, height: 526, fill: 'none', stroke: INK, 'stroke-width': 3.2 });
  
  
}
drawHeat(mouseHeat, 705, 131, 49.1, 58.4, 704, 130);
drawHeat(organoidHeat, 923, 132, 49, 58.4, 922, 131);
heatGenes.forEach(function (g, i) {
  const t = label(g, { class: 'it', x: 1126, y: 169.6 + 58.1 * i, style: 'font-size:25px' });
  
  
});

/* ===== panel c ===== */
const weekFill = { '0wk': '#eef0f8', '1wk': '#b7c9e8', '2wk': '#6aaee0', '4wk': '#1a96d8', '8wk': '#0f6fb0' };
function mouseX(v) { return 1524 + 13.56 * v; }
function mouseY(v) { return 161.9 - 15.3 * v; }
function orgX(v) { return 1581 + 25.7 * v; }
function orgY(v) { return 536 - 25.7 * v; }
function drawGrid(majX, minX, majY, minY, xf, yf, box, color) {
  minX.forEach(function (v) {
    const l = mk('line', { x1: xf(v), x2: xf(v), y1: box.t, y2: box.b, stroke: color, 'stroke-width': 1.8 });
    
    
  });
  minY.forEach(function (v) {
    const l = mk('line', { x1: box.l, x2: box.r, y1: yf(v), y2: yf(v), stroke: color, 'stroke-width': 1.8 });
    
    
  });
  majX.forEach(function (v) {
    const l = mk('line', { x1: xf(v), x2: xf(v), y1: box.t, y2: box.b, stroke: color, 'stroke-width': 3.6 });
    
    
  });
  majY.forEach(function (v) {
    const l = mk('line', { x1: box.l, x2: box.r, y1: yf(v), y2: yf(v), stroke: color, 'stroke-width': 3.6 });
    
    
  });
}
function drawCircle(x, y, fill) {
  const c = mk('circle', { cx: x, cy: y, r: 7.6, fill: fill, stroke: '#111', 'stroke-width': 2.6 });
  
  
}
function drawSquare(x, y, fill) {
  const s = mk('rect', { x: x - 7.6, y: y - 7.6, width: 15.2, height: 15.2, rx: 1.5, fill: fill, stroke: '#111', 'stroke-width': 2.6 });
  
  
}
function drawRedArrow(x1, y1, x2, y2) {
  const a = Math.atan2(y2 - y1, x2 - x1), L = 16, W = 9;
  const bx = x2 - L * Math.cos(a), by = y2 - L * Math.sin(a);
  const l = mk('line', { x1: x1, y1: y1, x2: bx, y2: by, stroke: '#ee2b30', 'stroke-width': 4 });
  
  
  const h = mk('polygon', { points: [x2, y2, bx + W * Math.sin(a), by - W * Math.cos(a), bx - W * Math.sin(a), by + W * Math.cos(a)].join(','), fill: '#ee2b30' });
  
  
}
function pcaTicks(xt, yt, xf, yf, xBase, yBase, boxL, boxB) {
  xt.forEach(function (v) {
    const t = label(minusFmt(v), { class: 'm', x: xf(v) - 4, y: xBase });
    
    
  });
  yt.forEach(function (v) {
    const t = label(minusFmt(v), { class: 'm', transform: 'translate(' + yBase + ',' + (yf(v) + (v < 0 ? 5 : 0)) + ') rotate(-90)' });
    
    
    const m = mk('line', { x1: boxL - 5, x2: boxL, y1: yf(v), y2: yf(v), stroke: INK, 'stroke-width': 2 });
    
    
  });
  xt.forEach(function (v) {
    const m = mk('line', { x1: xf(v), x2: xf(v), y1: boxB, y2: boxB + 5, stroke: INK, 'stroke-width': 2 });
    
    
  });
}
const mouseBox = { l: 1265.6, r: 1809.7, t: 41.3, b: 303 };
drawGrid(mouseMajorX, mouseMinorX, mouseMajorY, mouseMinorY, mouseX, mouseY, mouseBox, '#c2c4c4');
drawRedArrow(mouseX(mouseArrowX[0]), mouseY(mouseArrowY[0]), mouseX(mouseArrowX[1]), mouseY(mouseArrowY[1]));
mouseCircleX.forEach(function (v, i) { drawCircle(mouseX(v), mouseY(mouseCircleY[i]), weekFill['4wk']); });
mouseSquareX.forEach(function (v, i) { drawSquare(mouseX(v), mouseY(mouseSquareY[i]), weekFill['4wk']); });
const mouseFrame = mk('rect', { x: mouseBox.l, y: mouseBox.t, width: mouseBox.r - mouseBox.l, height: mouseBox.b - mouseBox.t, fill: 'none', stroke: INK, 'stroke-width': 3.2 });


pcaTicks(mouseMajorX, mouseMajorY, mouseX, mouseY, 328, 1257, mouseBox.l, mouseBox.b);
drawCircle(1830, 176.3, weekFill['4wk']);
drawSquare(1854.6, 176.3, weekFill['4wk']);
const mouseWk = label('4wk', { x: 1870.7, y: 185 });



const orgBox = { l: 1261.8, r: 1809.6, t: 392.9, b: 653.6 };
drawGrid(orgMajorX, orgMinorX, orgMajorY, orgMinorY, orgX, orgY, orgBox, '#d2d6d6');
const dashEllipse = mk('ellipse', { cx: 1383, cy: 541.6, rx: 112.6, ry: 58.8, transform: 'rotate(5 1383 541.6)', fill: 'none', stroke: '#149ad9', 'stroke-width': 3.4, 'stroke-dasharray': '21 15' });


drawRedArrow(orgX(orgArrowX[0]), orgY(orgArrowY[0]), orgX(orgArrowX[1]), orgY(orgArrowY[1]));
orgCircleX.forEach(function (v, i) { drawCircle(orgX(v), orgY(orgCircleY[i]), weekFill[orgCircleWeek[i]]); });
orgSquareX.forEach(function (v, i) { drawSquare(orgX(v), orgY(orgSquareY[i]), weekFill[orgSquareWeek[i]]); });
const orgFrame = mk('rect', { x: orgBox.l, y: orgBox.t, width: orgBox.r - orgBox.l, height: orgBox.b - orgBox.t, fill: 'none', stroke: INK, 'stroke-width': 3.2 });


pcaTicks(orgMajorX, orgMajorY, orgX, orgY, 679, 1257, orgBox.l, orgBox.b);
pcaWeeks.forEach(function (w, i) {
  const y = 520.5 + 30.5 * i;
  drawCircle(1827, y, weekFill[w]);
  drawSquare(1854.6, y, weekFill[w]);
  const t = label(w, { x: 1871, y: y + 9 });
  
  
});

/* ===== panel d quantification ===== */
function budsY(v) { return 1028.9 - 56.1 * v; }
function widthY(v) { return 1296 - 20.22 * v; }
function violinShape(cx, levels, density, yf, fill) {
  let d = '';
  levels.forEach(function (l, i) { d += (i ? 'L' : 'M') + (cx - density[i]) + ' ' + yf(l); });
  for (let i = levels.length - 1; i >= 0; i--) d += 'L' + (cx + density[i]) + ' ' + yf(levels[i]);
  const p = mk('path', { d: d + 'Z', fill: fill, 'stroke-linejoin': 'round', stroke: fill, 'stroke-width': 4 });
  
  
}
function boxPlot(cx, halfW, stats, yf) {
  const stem = mk('path', { d: 'M' + cx + ' ' + yf(stats[4]) + 'V' + yf(stats[3]) + 'M' + cx + ' ' + yf(stats[1]) + 'V' + yf(stats[0]) + 'M' + (cx - halfW) + ' ' + yf(stats[4]) + 'H' + (cx + halfW) + 'M' + (cx - halfW) + ' ' + yf(stats[0]) + 'H' + (cx + halfW), stroke: INK, 'stroke-width': 2.2, fill: 'none' });
  
  
  const r = mk('rect', { x: cx - halfW, y: yf(stats[3]), width: halfW * 2, height: yf(stats[1]) - yf(stats[3]), fill: 'none', stroke: INK, 'stroke-width': 1.8 });
  
  
  const m = mk('line', { x1: cx - halfW, x2: cx + halfW, y1: yf(stats[2]), y2: yf(stats[2]), stroke: INK, 'stroke-width': 2.2 });
  
  
}
function quantAxis(ticks, yf, minor) {
  ticks.forEach(function (v) {
    const t = label(String(v), { class: 'e', x: 901.7, y: yf(v) + 9, style: 'font-size:25px' });
    
    
    const m = mk('line', { x1: 906, x2: 915, y1: yf(v), y2: yf(v), stroke: INK, 'stroke-width': 2 });
    
    
  });
  minor.forEach(function (v) {
    const m = mk('line', { x1: 909, x2: 915, y1: yf(v), y2: yf(v), stroke: INK, 'stroke-width': 2 });
    
    
  });
}
violinShape(954, budsWTLevels, budsWTDensity, budsY, '#85878a');
boxPlot(954, 28.8, budsWTBox, budsY);
violinShape(1047.7, budsKOLevels, budsKODensity, budsY, '#0f96d8');
boxPlot(1047.7, 28.8, budsKOBox, budsY);
quantAxis(budsTicks, budsY, [.5, 1.5, 2.5, 3.5]);
const budsFrame = mk('rect', { x: 915, y: 777, width: 189, height: 254, fill: 'none', stroke: INK, 'stroke-width': 3 });


violinShape(967.3, widthWTLevels, widthWTDensity, widthY, '#85878a');
boxPlot(967.3, 20.8, widthWTBox, widthY);
violinShape(1054, widthKOLevels, widthKODensity, widthY, '#0f96d8');
boxPlot(1054, 20.8, widthKOBox, widthY);
widthWTOutliers.forEach(function (v) {
  const c = mk('circle', { cx: 967.3, cy: widthY(v), r: 1.8, fill: INK });
  
  
});
widthKOOutliers.forEach(function (v) {
  const c = mk('circle', { cx: 1054, cy: widthY(v), r: 1.8, fill: INK });
  
  
});
quantAxis(widthTicks, widthY, []);
const widthFrame = mk('rect', { x: 915, y: 1040.4, width: 189, height: 255.6, fill: 'none', stroke: INK, 'stroke-width': 3 });


const xt1 = mk('line', { x1: 959, x2: 959, y1: 1296, y2: 1309.6, stroke: INK, 'stroke-width': 2.4 });


const xt2 = mk('line', { x1: 1051.7, x2: 1051.7, y1: 1296, y2: 1309.6, stroke: INK, 'stroke-width': 2.4 });



/* ===== panel e ===== */
const trackBaseZ = [385,548,709,870,1031,1192,1353,1516];
const trackSepZ = [388,550,711,873,1033,1195,1356];
function zY(z) { return 710 + .434 * z; }
function trackPath(values, x0, binW, base, color) {
  let d = 'M' + x0 + ' ' + base;
  values.forEach(function (v, i) {
    const h = base - v * .434;
    d += 'V' + h.toFixed(1) + 'H' + (x0 + binW * (i + 1)).toFixed(1);
  });
  d += 'V' + base + 'Z';
  const p = mk('path', { d: d, fill: color });
  
  
}
const leftTracks = [cldn4Me3WT,cldn4Me3KO,cldn4Me2WT,cldn4Me2KO,cldn4K27WT,cldn4K27KO,cldn4RnaWT,cldn4RnaKO];
const rightTracks = [tubb6Me3WT,tubb6Me3KO,tubb6Me2WT,tubb6Me2KO,tubb6K27WT,tubb6K27KO,tubb6RnaWT,tubb6RnaKO];
leftTracks.forEach(function (t, i) { trackPath(t, 1218.9, 5.26, zY(trackBaseZ[i]), i % 2 ? '#1296d8' : '#85878a'); });
rightTracks.forEach(function (t, i) { trackPath(t, 1571.3, 2.63, zY(trackBaseZ[i]), i % 2 ? '#1296d8' : '#85878a'); });
trackSepZ.forEach(function (z) {
  const l = mk('line', { x1: 1216, x2: 1918, y1: zY(z), y2: zY(z), stroke: INK, 'stroke-width': 2.6 });
  
  
});
const trackGap = mk('rect', { x: 1566, y: zY(226), width: 3.4, height: zY(1524) - zY(226), fill: '#fff' });


const trackFrameL = mk('rect', { x: 1216.3, y: zY(230), width: 348.7, height: zY(1520) - zY(230), fill: 'none', stroke: INK, 'stroke-width': 2.6 });


const trackFrameR = mk('rect', { x: 1570, y: zY(230), width: 348, height: zY(1520) - zY(230), fill: 'none', stroke: INK, 'stroke-width': 2.6 });


const leftLabelZ = [293,455,617,778,942,1104,1266,1428];
const rightLabelZ = [290,447,610,770,938,1098,1273,1420];
leftLabelZ.forEach(function (z, i) {
  const t = label(trackScaleWT[Math.floor(i / 2)], { x: 1219, y: zY(z), style: 'font-size:26px' });
  
  
});
rightLabelZ.forEach(function (z, i) {
  const t = label(trackScaleTubb6[Math.floor(i / 2)], { x: 1572.4, y: zY(z), style: 'font-size:26px' });
  
  
});

/* ===== panels f, g ===== */
function drawProfile(cfg, wt, ko) {
  function x(p) { return cfg.x0 + cfg.xUnit * p; }
  function y(v) { return cfg.yRef - cfg.yUnit * (v - cfg.vRef); }
  function line(values, color) {
    const pts = values.map(function (v, i) { return x(profilePos[i]).toFixed(1) + ',' + y(v).toFixed(1); }).join(' ');
    return mk('polyline', { points: pts, fill: 'none', stroke: color, 'stroke-width': 2.8, 'stroke-linejoin': 'round' });
  }
  const w = line(wt, '#8c8e90');
  
  
  const k = line(ko, '#1c9bdb');
  
  
  const f = mk('rect', { x: cfg.l, y: cfg.t, width: cfg.r - cfg.l, height: cfg.b - cfg.t, fill: 'none', stroke: INK, 'stroke-width': 2.8 });
  
  
  cfg.ticks.forEach(function (v) {
    const t = label(v.toFixed(1), { class: 'e s', x: cfg.tickR, y: y(v) + 8.5 });
    widen(t, 1.08);
    
    
    const m = mk('line', { x1: cfg.l - 6, x2: cfg.l, y1: y(v), y2: y(v), stroke: INK, 'stroke-width': 2 });
    
    
  });
  [0, 1, 2, 3].forEach(function (p) {
    const m = mk('line', { x1: x(p), x2: x(p), y1: cfg.b, y2: cfg.b + 6, stroke: INK, 'stroke-width': 2.4 });
    
    
  });
  profileXLabels.forEach(function (s, i) {
    const t = label(s, { class: 's', x: cfg.labelX[i], y: cfg.labelY, textLength: cfg.labelW[i], lengthAdjust: 'spacingAndGlyphs' });
    
    
  });
}
drawProfile({ l: 113.3, r: 474.3, t: 1430.3, b: 1690.3, x0: 114.3, xUnit: 120, yRef: 1668.8, vRef: .5, yUnit: 97.7, ticks: fTopTicks, tickR: 107.3, labelX: [91,199.3,319,401], labelW: [44,48,48.7,66.7], labelY: 1722.8 }, fTopWT, fTopKO);
drawProfile({ l: 115, r: 479.3, t: 1774, b: 2031, x0: 115, xUnit: 121.5, yRef: 1988.6, vRef: .5, yUnit: 173, ticks: fBotTicks, tickR: 107.3, labelX: [100,208,328,411.7], labelW: [44,49,50,66.3], labelY: 2064.6 }, fBotWT, fBotKO);
drawProfile({ l: 580.7, r: 950, t: 1430.3, b: 1692, x0: 581.7, xUnit: 122.3, yRef: 1667.4, vRef: .2, yUnit: 191.6, ticks: gTopTicks, tickR: 571.7, labelX: [555,674,809.3,884], labelW: [43.3,48.7,46.7,66.7], labelY: 1722.8 }, gTopWT, gTopKO);
drawProfile({ l: 586, r: 950, t: 1776.4, b: 2035.4, x0: 586, xUnit: 121.3, yRef: 2015, vRef: .2, yUnit: 171.7, ticks: gBotTicks, tickR: 576, labelX: [562.7,682.3,816,892.3], labelW: [44,48.4,48,66], labelY: 2064.6 }, gBotWT, gBotKO);

/* ===== panels h, i shared ===== */
const treatmentFill = ['#fde0d2', '#f9a384', '#da5146'];
function drawDots(points, cx, yf) {
  const sorted = points.slice().sort(function (a, b) { return b - a; });
  let i = 0;
  while (i < sorted.length) {
    let j = i;
    while (j + 1 < sorted.length && Math.abs(yf(sorted[j + 1]) - yf(sorted[i])) < 5) j++;
    const n = j - i + 1;
    for (let k = 0; k < n; k++) {
      const c = mk('circle', { cx: cx + (k - (n - 1) / 2) * 7, cy: yf(sorted[i + k]), r: 3.1, fill: INK });
      
      
    }
    i = j + 1;
  }
}
function drawError(cx, hi, lo, capHalf, yf) {
  if (hi === lo) return;
  const e = mk('path', { d: 'M' + cx + ' ' + yf(hi) + 'V' + yf(lo) + 'M' + (cx - capHalf) + ' ' + yf(hi) + 'H' + (cx + capHalf) + 'M' + (cx - capHalf) + ' ' + yf(lo) + 'H' + (cx + capHalf), fill: 'none', stroke: '#2a2a2a', 'stroke-width': 2 });
  
  
}

/* ===== panel h ===== */
function hY(v) { return 2014.8 - 96 * v; }
function hLabelY(v) { return 1830 - 94.5 * (v - 2); }
function hBarX(g, t) { return 1061.6 + 124.4 * g + 40.3 * t; }
hMeans.forEach(function (row, g) {
  row.forEach(function (v, t) {
    const b = mk('rect', { x: hBarX(g, t), y: hY(v), width: 34.4, height: hY(0) - hY(v), fill: treatmentFill[t], stroke: '#333', 'stroke-width': 1.8 });
    
    
  });
});
const refLine = mk('line', { x1: 1046, x2: 1556, y1: hY(hReference), y2: hY(hReference), stroke: INK, 'stroke-width': 2, 'stroke-dasharray': '8 5' });


hMeans.forEach(function (row, g) {
  row.forEach(function (v, t) {
    const cx = hBarX(g, t) + 17.2;
    drawError(cx, hHigh[g][t], hLow[g][t], 9, hY);
    drawDots(hPoints[g][t], cx, hY);
  });
});
const hFrame = mk('rect', { x: 1052, y: 1430.5, width: 506, height: 585.2, fill: 'none', stroke: INK, 'stroke-width': 3.4 });


hTicks.forEach(function (v) {
  const m = mk('line', { x1: 1043.8, x2: 1052, y1: hY(v), y2: hY(v), stroke: INK, 'stroke-width': 2.4 });
  
  
  const t = label(String(v), { class: 'e', x: 1033, y: hLabelY(v), style: 'font-size:25px' });
  
  
});
hMinorTicks.forEach(function (v) {
  const m = mk('line', { x1: 1047, x2: 1052, y1: hY(v), y2: hY(v), stroke: INK, 'stroke-width': 2 });
  
  
});
hGenes.forEach(function (g, i) {
  const l = mk('rect', { x: [1062,1192,1317.4,1447.5][i], y: 2022.4, width: 105, height: 3.2, fill: INK });
  
  
  const t = label(g, { class: 'it m', x: [1105.5,1236.8,1361.3,1497][i], y: 2052.4, style: 'font-size:25px' });
  
  
});

/* ===== panel i ===== */
function iYLower(v) { return 2013.4 - 40.94 * v; }
function iYUpper(v) { return 1680.6 - 3.994 * (v - 20); }
function iY(v) { return v > 8 ? iYUpper(v) : iYLower(v); }
function iBarX(g, t) { return 1647.3 + 149.7 * g + 38.7 * t; }
iMeans.forEach(function (row, g) {
  row.forEach(function (v, t) {
    const x = iBarX(g, t);
    if (v > 8) {
      const low = mk('rect', { x: x, y: iYLower(6.84), width: 34, height: iYLower(0) - iYLower(6.84), fill: treatmentFill[t], stroke: '#333', 'stroke-width': 1.8 });
      
      
      const up = mk('rect', { x: x, y: iYUpper(v), width: 34, height: iYUpper(10) - iYUpper(v), fill: treatmentFill[t], stroke: '#333', 'stroke-width': 1.8 });
      
      
    } else {
      const b = mk('rect', { x: x, y: iYLower(v), width: 34, height: iYLower(0) - iYLower(v), fill: treatmentFill[t], stroke: '#333', 'stroke-width': 1.8 });
      
      
    }
    drawError(x + 17, iHigh[g][t], iLow[g][t], 8, iY);
    drawDots(iPoints[g][t], x + 17, iY);
  });
});
const iFrame = mk('rect', { x: 1640, y: 1429.6, width: 280, height: 585.2, fill: 'none', stroke: INK, 'stroke-width': 3.4 });


const breakMask = mk('path', { d: 'M1636 1717H1644V1733H1636ZM1916 1717H1924V1733H1916Z', fill: '#fff' });


const breakMarks = mk('path', { d: 'M1633 1726L1650 1712M1635 1737L1651 1722M1909 1726L1928 1712M1911 1737L1928 1722', stroke: INK, 'stroke-width': 2.6, fill: 'none' });


iTicksLower.concat(iTicksUpper).forEach(function (v) {
  const m = mk('line', { x1: 1630.7, x2: 1640, y1: iY(v), y2: iY(v), stroke: INK, 'stroke-width': 2.4 });
  
  
  const t = label(String(v), { class: 'e', x: 1626, y: iY(v) + (v === 0 ? 3 : 8), style: 'font-size:25px' });
  
  
});
iMinorLower.concat(iMinorUpper).forEach(function (v) {
  const m = mk('line', { x1: 1636, x2: 1640, y1: iY(v), y2: iY(v), stroke: INK, 'stroke-width': 2 });
  
  
});
iGenes.forEach(function (g, i) {
  const l = mk('rect', { x: 1651.7 + 150.6 * i, y: 2023.4, width: 102.6, height: 3.2, fill: INK });
  
  
});
</script>
</body>
</html>
